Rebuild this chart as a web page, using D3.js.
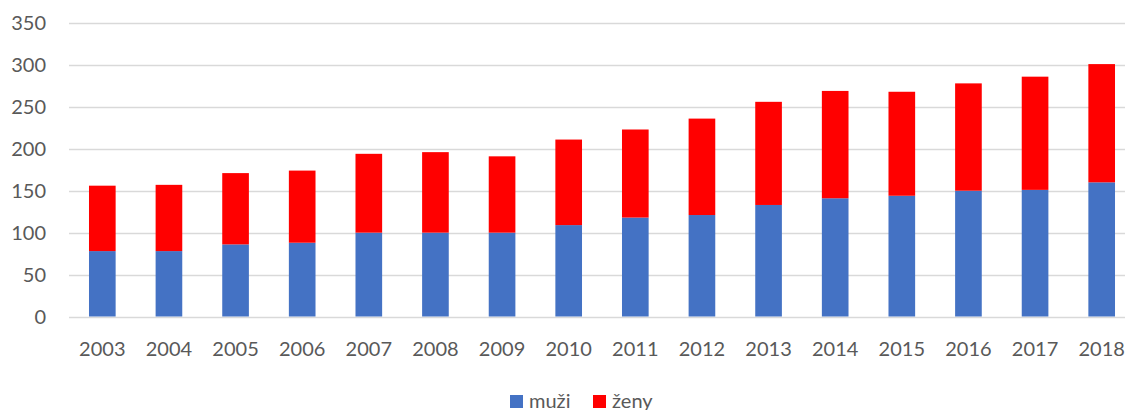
<!DOCTYPE html>
<html>
<head>
<meta charset="utf-8">
<script src="https://cdn.jsdelivr.net/npm/d3@7"></script>
<style>
  body { margin: 0; background: #fff; }
  svg { display: block; font-family: Lato, "Open Sans", sans-serif; }
</style>
</head>
<body>
<svg width="1125" height="410"></svg>
<script>
const years = ['2003', '2004', '2005', '2006', '2007', '2008', '2009', '2010',
  '2011', '2012', '2013', '2014', '2015', '2016', '2017', '2018'];
const muzi = [78, 78, 86, 88, 100, 100, 100, 109, 118, 121, 133, 141, 144, 150, 151, 160];
const zeny = [78, 79, 85, 86, 94, 96, 91, 102, 105, 115, 123, 128, 124, 128, 135, 141];
const yTicks = [0, 50, 100, 150, 200, 250, 300, 350];

const seriesNames = ['muži', 'ženy'];
const colors = ['#4472c4', '#ff0000'];

const rows = years.map((y, i) => ({ year: y, 'muži': muzi[i], 'ženy': zeny[i] }));
const stacked = d3.stack().keys(seriesNames)(rows);

const svg = d3.select('svg');
const plotLeft = 69, plotRight = 1135, plotTop = 23, plotBottom = 316.5;

const x = d3.scaleBand().domain(years).range([plotLeft, plotRight]).paddingInner(0.6).paddingOuter(0.3);
const y = d3.scaleLinear().domain([0, 350]).range([plotBottom, plotTop]);

// gridlines
svg.append('g')
  .selectAll('line')
  .data(yTicks)
  .join('line')
  .attr('x1', plotLeft).attr('x2', plotRight)
  .attr('y1', d => Math.round(y(d)) + 0.5).attr('y2', d => Math.round(y(d)) + 0.5)
  .attr('stroke', '#d9d9d9')
  .attr('stroke-width', 1.5);

// y labels
svg.append('g')
  .selectAll('text')
  .data(yTicks)
  .join('text')
  .attr('x', 46)
  .attr('y', d => y(d) + 7)
  .attr('text-anchor', 'end')
  .attr('font-size', 20)
  .attr('fill', '#595959')
  .text(d => d);

// bars
svg.append('g')
  .selectAll('g')
  .data(stacked)
  .join('g')
  .attr('fill', (d, i) => colors[i])
  .selectAll('rect')
  .data(d => d)
  .join('rect')
  .attr('x', d => x(d.data.year))
  .attr('width', x.bandwidth())
  .attr('y', d => y(d[1]))
  .attr('height', d => y(d[0]) - y(d[1]));

// x labels
svg.append('g')
  .selectAll('text')
  .data(years)
  .join('text')
  .attr('x', d => x(d) + x.bandwidth() / 2)
  .attr('y', 356)
  .attr('text-anchor', 'middle')
  .attr('font-size', 20)
  .attr('fill', '#595959')
  .text(d => d);

// legend
const legendX = [510, 593];
const legend = svg.append('g')
  .selectAll('g')
  .data(seriesNames)
  .join('g')
  .attr('transform', (d, i) => `translate(${legendX[i]}, 395)`);
legend.append('rect')
  .attr('width', 13).attr('height', 13)
  .attr('fill', (d, i) => colors[i]);
legend.append('text')
  .attr('x', 19)
  .attr('y', 13)
  .attr('font-size', 20)
  .attr('fill', '#595959')
  .text(d => d);
</script>
</body>
</html>
